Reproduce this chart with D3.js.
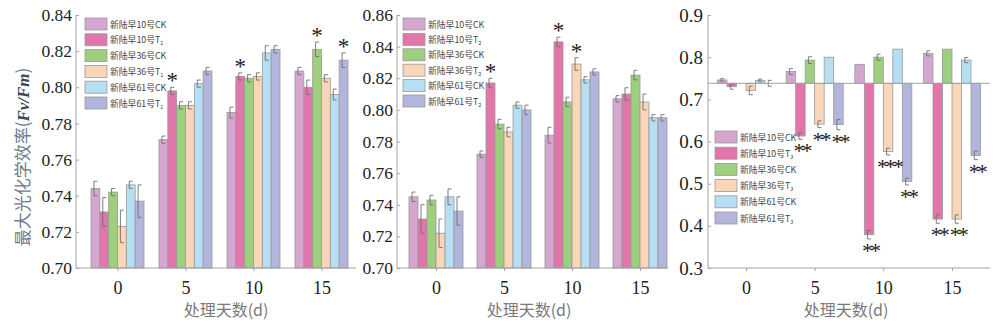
<!DOCTYPE html>
<html><head><meta charset="utf-8">
<script src="https://cdn.jsdelivr.net/npm/d3@7/dist/d3.min.js"></script>
<style>body{margin:0;background:#fff} svg{display:block}</style>
</head><body><svg id="c" width="1000" height="325"></svg>
<script>
// ---------- data ----------
const days = [0, 5, 10, 15];
const dayLabels = ["0", "5", "10", "15"];
const legendNames = ["新陆早10号CK", "新陆早10号T", "新陆早36号CK", "新陆早36号T", "新陆早61号CK", "新陆早61号T"];
const legendSubs1 = ["", "1", "", "1", "", "1"];
const legendSubs2 = ["", "2", "", "2", "", "2"];
const legendSubs3 = ["", "3", "", "3", "", "3"];
const colors = ["#d5a7d0", "#e276aa", "#9ecf7e", "#f8d6b7", "#b6dff3", "#b2b6dd"];

const yTicks1 = [0.70, 0.72, 0.74, 0.76, 0.78, 0.80, 0.82, 0.84];
const yTicks2 = [0.70, 0.72, 0.74, 0.76, 0.78, 0.80, 0.82, 0.84, 0.86];
const yTicks3 = [0.3, 0.4, 0.5, 0.6, 0.7, 0.8, 0.9];

// panel 1 (T1) values per series, at days 0,5,10,15
const values1 = [
  [0.744, 0.771, 0.786, 0.809],
  [0.731, 0.798, 0.806, 0.800],
  [0.742, 0.790, 0.805, 0.821],
  [0.723, 0.790, 0.806, 0.805],
  [0.746, 0.802, 0.819, 0.796],
  [0.737, 0.809, 0.821, 0.815]
];
const errors1 = [
  [0.004, 0.002, 0.003, 0.002],
  [0.008, 0.002, 0.002, 0.004],
  [0.002, 0.002, 0.002, 0.004],
  [0.009, 0.002, 0.002, 0.002],
  [0.002, 0.002, 0.004, 0.003],
  [0.009, 0.002, 0.002, 0.004]
];
const sig1 = [
  ["", "", "", ""],
  ["", "*", "*", ""],
  ["", "", "", "*"],
  ["", "", "", ""],
  ["", "", "", ""],
  ["", "", "", "*"]
];

// panel 2 (T2)
const values2 = [
  [0.745, 0.772, 0.784, 0.807],
  [0.731, 0.817, 0.843, 0.810],
  [0.743, 0.791, 0.805, 0.822],
  [0.722, 0.786, 0.829, 0.805],
  [0.745, 0.803, 0.819, 0.795],
  [0.736, 0.800, 0.824, 0.795]
];
const errors2 = [
  [0.003, 0.002, 0.005, 0.002],
  [0.009, 0.003, 0.003, 0.004],
  [0.003, 0.003, 0.003, 0.003],
  [0.009, 0.003, 0.004, 0.005],
  [0.005, 0.002, 0.002, 0.002],
  [0.009, 0.003, 0.002, 0.002]
];
const sig2 = [
  ["", "", "", ""],
  ["", "*", "*", ""],
  ["", "", "", ""],
  ["", "", "*", ""],
  ["", "", "", ""],
  ["", "", "", ""]
];

// panel 3 (T3), bars drawn from the reference level
const baseline3 = 0.738;
const values3 = [
  [0.746, 0.766, 0.783, 0.809],
  [0.730, 0.613, 0.379, 0.416],
  [0.738, 0.793, 0.800, 0.819],
  [0.721, 0.641, 0.576, 0.416],
  [0.745, 0.800, 0.819, 0.793],
  [0.738, 0.640, 0.505, 0.567]
];
const errors3 = [
  [0.003, 0.007, 0.000, 0.006],
  [0.006, 0.008, 0.010, 0.010],
  [0.000, 0.008, 0.007, 0.000],
  [0.010, 0.008, 0.008, 0.010],
  [0.003, 0.000, 0.000, 0.006],
  [0.007, 0.012, 0.008, 0.010]
];
const sig3 = [
  ["", "", "", ""],
  ["", "**", "**", "**"],
  ["", "", "", ""],
  ["", "**", "***", "**"],
  ["", "", "", ""],
  ["", "**", "**", "**"]
];

// ---------- layout ----------
const svg = d3.select("#c");
const TOP = 15, BOT = 268;
const AXIS = "#a3a3a3";
const SERIF = "'Liberation Serif', 'Times New Roman', serif";
const CJK = "'Noto Sans CJK SC', 'Noto Sans', sans-serif";

const panels = [
  {values: values1, errors: errors1, sig: sig1, subs: legendSubs1, yDom: [0.70, 0.84], yTicks: yTicks1, fmt: d3.format(".2f"),
   axX: 76, axEnd: 356, c0: 117.5, c15: 321.5, groupW: 53, legX: 85, legY: 24, legStep: 15.8, title: 226},
  {values: values2, errors: errors2, sig: sig2, subs: legendSubs2, yDom: [0.70, 0.86], yTicks: yTicks2, fmt: d3.format(".2f"),
   axX: 397, axEnd: 668, c0: 436, c15: 640, groupW: 54, legX: 403, legY: 24, legStep: 15.4, title: 529},
  {values: values3, errors: errors3, sig: sig3, subs: legendSubs3, yDom: [0.3, 0.9], yTicks: yTicks3, fmt: d3.format(".1f"),
   axX: 708, axEnd: 990, c0: 746, c15: 952, groupW: 57, legX: 715, legY: 137, legStep: 16.2, title: 846, base: baseline3}
];

panels.forEach((p, pi) => {
  const g = svg.append("g");
  const x = d3.scaleLinear().domain([0, 15]).range([p.c0, p.c15]);
  const inner = d3.scaleBand().domain(d3.range(6)).range([-p.groupW / 2, p.groupW / 2]);
  const y = d3.scaleLinear().domain(p.yDom).range([BOT, TOP]);
  const base = p.base !== undefined ? p.base : p.yDom[0];
  const bw = inner.bandwidth();

  // bars
  const rows = [];
  p.values.forEach((arr, si) => arr.forEach((v, di) => rows.push({si, di, v, e: p.errors[si][di], s: p.sig[si][di]})));
  g.selectAll("rect.bar").data(rows).join("rect")
    .attr("x", d => x(days[d.di]) + inner(d.si))
    .attr("width", bw)
    .attr("y", d => Math.min(y(d.v), y(base)))
    .attr("height", d => Math.abs(y(base) - y(d.v)))
    .attr("fill", d => colors[d.si])
    .attr("stroke", "#9a9a9a").attr("stroke-width", 0.8);

  // error bars ("[" style)
  const eb = g.selectAll("g.err").data(rows.filter(d => d.e > 0)).join("g")
    .attr("stroke", "#6e6e6e").attr("stroke-width", 0.9).attr("fill", "none");
  eb.append("path").attr("d", d => {
    const cx = x(days[d.di]) + inner(d.si) + bw / 2 - 1.5;
    const y1 = y(d.v + d.e), y2 = y(d.v - d.e);
    return `M${cx + 3.5},${y1}H${cx}V${y2}H${cx + 3.5}`;
  });

  // baseline for panel 3
  if (p.base !== undefined) {
    g.append("line").attr("x1", p.axX).attr("x2", p.axEnd).attr("y1", y(base)).attr("y2", y(base))
      .attr("stroke", AXIS).attr("stroke-width", 1);
  }

  // significance marks
  g.selectAll("text.sig").data(rows.filter(d => d.s)).join("text")
    .attr("x", d => x(days[d.di]) + inner(d.si) + bw / 2 + (d.v >= base ? 0 : 1))
    .attr("y", d => d.v >= base ? y(d.v + d.e) + 1 : y(d.v - d.e) + 19)
    .attr("text-anchor", "middle")
    .style("font-family", SERIF)
    .attr("font-size", d => d.v >= base ? 23 : 22)
    .attr("letter-spacing", d => d.v >= base ? 0 : -3)
    .attr("fill", "#222")
    .text(d => d.s);

  // y axis
  const ya = g.append("g").attr("transform", `translate(${p.axX},0)`)
    .call(d3.axisLeft(y).tickValues(p.yTicks).tickFormat(p.fmt).tickSize(-3).tickPadding(pi === 2 ? 5 : 4));
  ya.select(".domain").attr("stroke", AXIS).attr("d", `M0,${BOT}V${TOP}`);
  ya.selectAll(".tick line").attr("stroke", AXIS);
  ya.selectAll(".tick text").style("font-family", SERIF)
    .attr("font-size", pi === 2 ? 19 : 17.5).attr("fill", "#222");

  // x axis
  const xa = g.append("g").attr("transform", `translate(0,${BOT})`)
    .call(d3.axisBottom(x).tickValues(days).tickFormat((d, i) => dayLabels[i]).tickSize(3).tickPadding(10));
  xa.select(".domain").remove();
  xa.append("line").attr("x1", p.axX).attr("x2", p.axEnd).attr("stroke", AXIS);
  xa.selectAll(".tick line").attr("stroke", AXIS);
  xa.selectAll(".tick text").style("font-family", SERIF)
    .attr("font-size", 18).attr("fill", "#222");

  // x title
  g.append("text").attr("x", p.title).attr("y", 316).attr("text-anchor", "middle")
    .style("font-family", CJK).attr("font-size", 16).attr("fill", "#7a7a7a")
    .text("处理天数(d)");

  // legend
  const leg = g.selectAll("g.leg").data(legendNames).join("g")
    .attr("transform", (d, i) => `translate(${p.legX},${p.legY + i * p.legStep})`);
  leg.append("rect").attr("x", 0).attr("y", -6).attr("width", 22).attr("height", 12)
    .attr("fill", (d, i) => colors[i]).attr("stroke", "#9a9a9a").attr("stroke-width", 0.8);
  const lt = leg.append("text").attr("x", 25).attr("y", 3.5)
    .style("font-family", CJK).attr("font-size", 8.8).attr("fill", "#444");
  lt.append("tspan").text(d => d);
  lt.append("tspan").attr("font-size", 5.5).attr("dy", 2).text((d, i) => p.subs[i]);
});

// y title (first panel only)
const yt = svg.append("text").attr("transform", "translate(29,157) rotate(-90)")
  .attr("text-anchor", "middle").style("font-family", CJK)
  .attr("font-size", 17).attr("fill", "#6f7b8b");
yt.append("tspan").text("最大光化学效率(");
yt.append("tspan").style("font-family", SERIF).attr("font-style", "italic")
  .attr("font-weight", "bold").attr("fill", "#3d4757").text("Fv/Fm");
yt.append("tspan").text(")");
</script>
</body></html>
